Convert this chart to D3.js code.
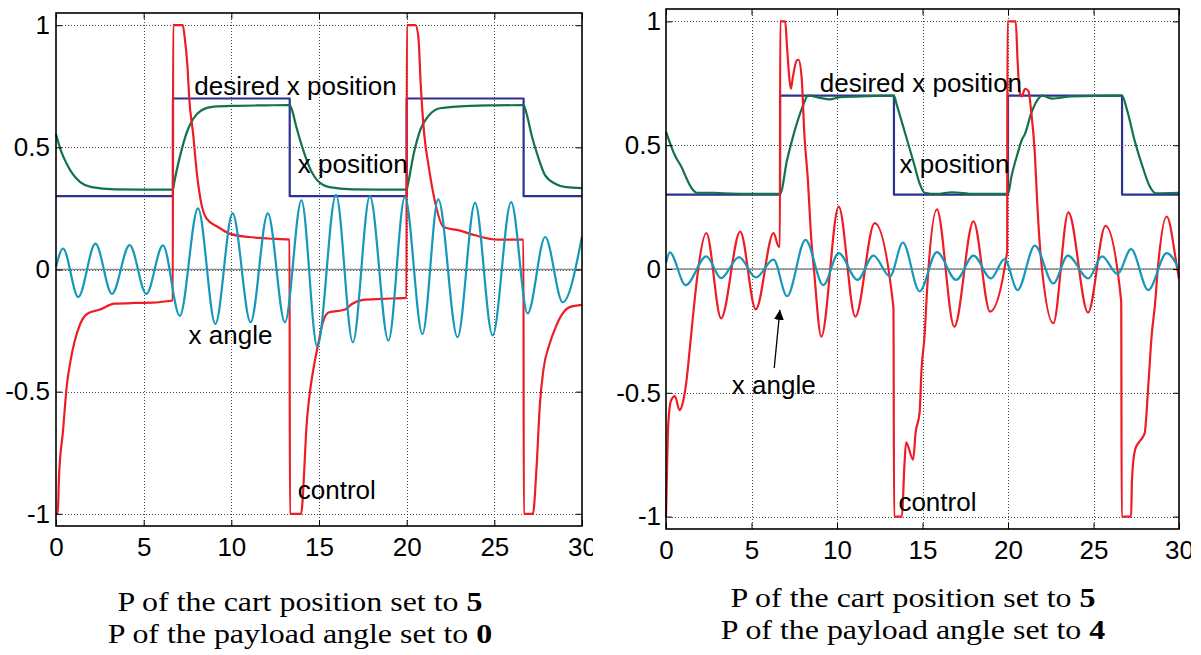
<!DOCTYPE html>
<html><head><meta charset="utf-8">
<script src="https://cdn.jsdelivr.net/npm/d3@7"></script>
<style>
html,body{margin:0;padding:0;background:#fff;}
svg{display:block;}
</style></head><body>
<svg id="chart" width="1201" height="655"></svg>
<script>
// ---- axis ticks ----
const xTicks = [0, 5, 10, 15, 20, 25, 30];
const yTicks = [-1, -0.5, 0, 0.5, 1];
const yTickLabels = ["-1", "-0.5", "0", "0.5", "1"];

// ---- desired cart position (square wave), same for both runs ----
const desiredT = [0, 6.67, 13.33, 20, 26.67, 30];
const desiredX = [0.3, 0.7, 0.3, 0.7, 0.3, 0.3];

// ---- run A: cart position gain 5, payload angle gain 0 ----
const posT_A = [0, 0.28, 0.61, 0.94, 1.38, 2.03, 3.34, 5.0, 6.67, 6.73, 7.06, 7.5, 7.82, 8.26, 9.02, 10.3, 12.0, 13.33, 13.45, 13.72, 14.05, 14.5, 14.9, 15.6, 16.9, 18.5, 20.0, 20.06, 20.4, 20.8, 21.26, 21.9, 23.66, 25.0, 26.67, 26.83, 27.16, 27.5, 27.9, 28.5, 29.1, 30];
const pos_A = [0.555, 0.487, 0.433, 0.392, 0.358, 0.337, 0.328, 0.327, 0.327, 0.351, 0.46, 0.569, 0.616, 0.65, 0.667, 0.67, 0.672, 0.673, 0.655, 0.58, 0.50, 0.412, 0.365, 0.337, 0.328, 0.327, 0.327, 0.345, 0.473, 0.576, 0.63, 0.66, 0.67, 0.672, 0.673, 0.64, 0.54, 0.46, 0.385, 0.35, 0.337, 0.333];

const ctrlT_A = [0, 0.1, 0.17, 0.4, 0.61, 0.83, 1.05, 1.38, 1.81, 2.47, 3.34, 4.5, 5.5, 6.3, 6.66, 6.68, 7.23, 7.34, 7.5, 7.6, 7.82, 8.04, 8.26, 8.59, 9.24, 9.9, 11.0, 12.08, 13.32, 13.34, 13.98, 14.05, 14.16, 14.27, 14.45, 14.7, 14.92, 15.25, 15.58, 16.45, 16.9, 17.5, 18.6, 19.99, 20.01, 20.5, 20.67, 20.8, 21.0, 21.26, 21.6, 22.1, 23.0, 23.9, 25.2, 26.66, 26.68, 27.2, 27.4, 27.6, 27.8, 28.15, 28.5, 28.9, 29.3, 30];
const ctrl_A = [-1, -1, -0.85, -0.66, -0.48, -0.373, -0.298, -0.223, -0.18, -0.165, -0.14, -0.137, -0.136, -0.13, -0.127, 1, 1, 0.95, 0.83, 0.70, 0.555, 0.39, 0.28, 0.208, 0.174, 0.147, 0.133, 0.127, 0.122, -1, -1, -0.96, -0.82, -0.66, -0.52, -0.40, -0.318, -0.209, -0.175, -0.165, -0.14, -0.124, -0.12, -0.116, 1, 1, 0.95, 0.76, 0.555, 0.42, 0.283, 0.174, 0.16, 0.14, 0.122, 0.122, -1, -1, -0.82, -0.55, -0.41, -0.305, -0.236, -0.18, -0.154, -0.145];

const angleT_A = [0, 0.4, 1.27, 2.25, 3.19, 4.2, 5.15, 6.1, 7.06, 8.1, 9.09, 10.07, 11.1, 12.08, 13.06, 14.0, 14.9, 15.97, 16.93, 17.9, 18.96, 19.9, 20.9, 21.8, 22.9, 23.9, 24.9, 25.96, 26.9, 27.9, 28.9, 30];
const angle_A = [0.01, 0.086, -0.113, 0.106, -0.10, 0.10, -0.10, 0.099, -0.19, 0.25, -0.223, 0.23, -0.216, 0.23, -0.216, 0.283, -0.316, 0.306, -0.298, 0.30, -0.291, 0.297, -0.264, 0.287, -0.277, 0.273, -0.27, 0.276, -0.18, 0.133, -0.134, 0.135];

// ---- run B: cart position gain 5, payload angle gain 4 ----
const posT_B = [0, 0.56, 0.9, 1.24, 1.57, 1.8, 2.8, 3.37, 5.0, 6.67, 7.08, 7.53, 7.98, 8.31, 9.1, 9.55, 10.2, 11.8, 13.33, 13.48, 13.82, 14.16, 14.5, 14.83, 15.12, 15.84, 16.74, 18.0, 20.0, 20.2, 20.56, 20.8, 21.0, 21.35, 21.7, 22.0, 22.6, 23.7, 26.67, 26.97, 27.4, 27.87, 28.3, 28.65, 30];
const pos_B = [0.554, 0.453, 0.413, 0.36, 0.32, 0.308, 0.308, 0.306, 0.303, 0.303, 0.44, 0.56, 0.654, 0.70, 0.69, 0.685, 0.694, 0.698, 0.70, 0.667, 0.587, 0.507, 0.426, 0.346, 0.308, 0.303, 0.31, 0.303, 0.303, 0.373, 0.466, 0.52, 0.547, 0.627, 0.68, 0.70, 0.688, 0.697, 0.70, 0.64, 0.52, 0.413, 0.332, 0.306, 0.308];

const ctrlT_B = [0, 0.06, 0.13, 0.3, 0.52, 0.79, 1.0, 1.2, 1.38, 1.55, 1.7, 1.83, 2.36, 3.22, 4.34, 5.25, 6.29, 6.6, 6.66, 6.68, 6.97, 7.08, 7.19, 7.3, 7.42, 7.64, 7.75, 7.93, 8.09, 8.31, 8.47, 8.65, 9.08, 10.1, 11.07, 12.2, 13.3, 13.34, 13.8, 13.93, 14.04, 14.45, 14.6, 14.83, 14.94, 15.12, 15.28, 15.84, 16.86, 17.98, 18.95, 19.95, 19.97, 20.45, 20.56, 20.67, 20.8, 21.0, 21.2, 21.35, 21.57, 21.7, 21.9, 22.65, 23.53, 24.68, 25.7, 26.62, 26.65, 27.2, 27.25, 27.43, 27.65, 27.87, 28.0, 28.2, 28.4, 28.6, 28.76, 29.28, 29.9, 30];
const ctrl_B = [-1, -0.81, -0.63, -0.53, -0.513, -0.57, -0.535, -0.45, -0.33, -0.21, -0.11, -0.03, 0.145, -0.199, 0.151, -0.163, 0.145, 0.09, 0.09, 1, 1, 0.895, 0.788, 0.728, 0.775, 0.842, 0.845, 0.775, 0.547, 0.346, 0.145, 0, -0.273, 0.252, -0.192, 0.185, -0.155, -1, -1, -0.81, -0.70, -0.77, -0.66, -0.58, -0.41, -0.27, -0.07, 0.241, -0.233, 0.192, -0.172, 0.07, 1, 1, 0.842, 0.72, 0.697, 0.728, 0.718, 0.64, 0.466, 0.28, 0.064, -0.219, 0.229, -0.176, 0.174, -0.13, -1, -1, -0.85, -0.73, -0.70, -0.68, -0.66, -0.475, -0.27, -0.14, 0, 0.212, 0, -0.04];

const angleT_B = [0, 0.22, 1.15, 2.36, 3.22, 4.27, 5.25, 6.29, 7.08, 8.16, 9.2, 10.1, 11.2, 12.13, 13.1, 13.85, 14.83, 15.84, 16.97, 17.98, 19.0, 19.8, 20.56, 21.57, 22.65, 23.5, 24.7, 25.5, 26.4, 27.2, 28.2, 29.28, 30];
const angle_B = [0.024, 0.067, -0.065, 0.051, -0.037, 0.048, -0.034, 0.038, -0.11, 0.118, -0.065, 0.064, -0.044, 0.054, -0.03, 0.107, -0.09, 0.068, -0.044, 0.054, -0.038, 0.04, -0.085, 0.094, -0.058, 0.054, -0.038, 0.051, -0.02, 0.08, -0.085, 0.064, 0];

// ---- curve labels (anchored in data coordinates) ----
const labelText = ["desired x position", "x position", "x angle", "control"];
const labelT_A = [7.89, 13.79, 7.56, 13.79];
const labelV_A = [0.716, 0.393, -0.303, -0.939];
const labelT_B = [8.99, 13.66, 3.85, 13.59];
const labelV_B = [0.714, 0.389, -0.505, -0.976];
// arrow from the "x angle" label to the angle trace in run B
const arrowFrom_B = [6.33, -0.40];
const arrowTo_B = [6.66, -0.165];

// ---- captions ----
const captionPos = "P of the cart position set to ";
const captionAng = "P of the payload angle set to ";
const gainPos = ["5", "5"];
const gainAng = ["0", "4"];

// ---- styling ----
const COLORS = {desired: "#2e3192", position: "#12734a", control: "#ee1c25", angle: "#1798bb"};
const SANS = "'Liberation Sans', Arial, Helvetica, sans-serif";
const SERIF = "'Liberation Serif', 'Times New Roman', Times, serif";

const panels = [
  {left: 56, right: 582, top: 13, bottom: 526, clipRight: 593, labelGap: 6,
   desired: [desiredT, desiredX], position: [posT_A, pos_A], control: [ctrlT_A, ctrl_A], angle: [angleT_A, angle_A],
   labelT: labelT_A, labelV: labelV_A, arrow: null,
   capX: 300, capY: 611, gains: [gainPos[0], gainAng[0]]},
  {left: 666, right: 1179, top: 9, bottom: 529, clipRight: 1191, labelGap: 5,
   desired: [desiredT, desiredX], position: [posT_B, pos_B], control: [ctrlT_B, ctrl_B], angle: [angleT_B, angle_B],
   labelT: labelT_B, labelV: labelV_B, arrow: [arrowFrom_B, arrowTo_B],
   capX: 913, capY: 607, gains: [gainPos[1], gainAng[1]]}
];
const CAPTION_LINE_STEP = 32;
const CAPTION_SIZE = 28;
const CAPTION_STRETCH = 1.14;   // caption face is set wide

const svg = d3.select("#chart");
const defs = svg.append("defs");
defs.append("marker")
  .attr("id", "arrowHead")
  .attr("viewBox", "0 0 10 10")
  .attr("refX", 10).attr("refY", 5)
  .attr("markerWidth", 10).attr("markerHeight", 10)
  .attr("markerUnits", "userSpaceOnUse")
  .attr("orient", "auto")
  .append("path").attr("d", "M0,0 L10,5 L0,10 Z").attr("fill", "#000");

panels.forEach((p, i) => {
  const x = d3.scaleLinear().domain([0, 30]).range([p.left, p.right]);
  const y = d3.scaleLinear().domain([-1.05, 1.05]).range([p.bottom, p.top]);

  defs.append("clipPath").attr("id", "clip" + i)
    .append("rect").attr("x", 0).attr("y", 0).attr("width", p.clipRight).attr("height", 655);

  const g = svg.append("g").attr("clip-path", `url(#clip${i})`);

  // dotted grid
  const grid = g.append("g").attr("stroke", "#444").attr("stroke-width", 1).attr("stroke-dasharray", "1,2");
  grid.selectAll("line.gx").data(xTicks.filter(t => t > 0 && t < 30)).join("line")
    .attr("x1", d => Math.round(x(d)) + 0.5).attr("x2", d => Math.round(x(d)) + 0.5)
    .attr("y1", p.top).attr("y2", p.bottom);
  grid.selectAll("line.gy").data(yTicks).join("line")
    .attr("y1", d => Math.round(y(d)) + 0.5).attr("y2", d => Math.round(y(d)) + 0.5)
    .attr("x1", p.left).attr("x2", p.right);

  // zero reference line
  g.append("line")
    .attr("x1", p.left).attr("x2", p.right)
    .attr("y1", y(0)).attr("y2", y(0))
    .attr("stroke", "#8a8a8a").attr("stroke-width", 1.3);

  const mk = (arr, curve) => d3.line()
    .x(d => x(d[0])).y(d => y(d[1])).curve(curve)(d3.zip(arr[0], arr[1]));

  const traces = [
    ["desired", d3.curveStepAfter],
    ["position", d3.curveMonotoneX],
    ["control", d3.curveMonotoneX],
    ["angle", d3.curveMonotoneX]
  ];
  traces.forEach(([key, curve]) => {
    g.append("path")
      .attr("d", mk(p[key], curve))
      .attr("fill", "none")
      .attr("stroke", COLORS[key])
      .attr("stroke-width", 2.2)
      .attr("stroke-linejoin", "round");
  });

  // axes: inward ticks on all four sides
  const fmt = d => yTickLabels[yTicks.indexOf(d)];
  const axL = g.append("g").attr("transform", `translate(${p.left},0)`)
    .call(d3.axisLeft(y).tickValues(yTicks).tickFormat(fmt).tickSize(-6).tickSizeOuter(0).tickPadding(p.labelGap));
  const axR = g.append("g").attr("transform", `translate(${p.right},0)`)
    .call(d3.axisRight(y).tickValues(yTicks).tickFormat("").tickSize(-6).tickSizeOuter(0));
  const axB = g.append("g").attr("transform", `translate(0,${p.bottom})`)
    .call(d3.axisBottom(x).tickValues(xTicks).tickSize(-6).tickSizeOuter(0).tickPadding(12));
  const axT = g.append("g").attr("transform", `translate(0,${p.top})`)
    .call(d3.axisTop(x).tickValues(xTicks).tickFormat("").tickSize(-6).tickSizeOuter(0));
  [axL, axR, axB, axT].forEach(a => {
    a.select(".domain").remove();
    a.selectAll(".tick line").attr("stroke", "#000").attr("stroke-width", 1);
    a.selectAll(".tick text").attr("font-family", SANS).attr("font-size", 26).attr("fill", "#000");
  });

  // box
  g.append("rect")
    .attr("x", p.left).attr("y", p.top)
    .attr("width", p.right - p.left).attr("height", p.bottom - p.top)
    .attr("fill", "none").attr("stroke", "#000").attr("stroke-width", 1.6);

  // curve labels
  g.selectAll("text.lbl").data(labelText).join("text")
    .attr("class", "lbl")
    .attr("x", (d, k) => x(p.labelT[k]))
    .attr("y", (d, k) => y(p.labelV[k]))
    .attr("font-family", SANS).attr("font-size", 26).attr("fill", "#000")
    .text(d => d);

  if (p.arrow) {
    g.append("line")
      .attr("x1", x(p.arrow[0][0])).attr("y1", y(p.arrow[0][1]))
      .attr("x2", x(p.arrow[1][0])).attr("y2", y(p.arrow[1][1]))
      .attr("stroke", "#000").attr("stroke-width", 1.3)
      .attr("marker-end", "url(#arrowHead)");
  }

  // two-line caption under the panel
  const capG = svg.append("g")
    .attr("transform", `translate(${p.capX},${p.capY}) scale(${CAPTION_STRETCH},1)`);
  [captionPos, captionAng].forEach((line, k) => {
    const t = capG.append("text")
      .attr("font-family", SERIF).attr("font-size", CAPTION_SIZE).attr("fill", "#000")
      .attr("text-anchor", "middle")
      .attr("x", 0).attr("y", k * CAPTION_LINE_STEP);
    t.append("tspan").text(line);
    t.append("tspan").attr("font-weight", "bold").text(p.gains[k]);
  });
});
</script>
</body></html>
